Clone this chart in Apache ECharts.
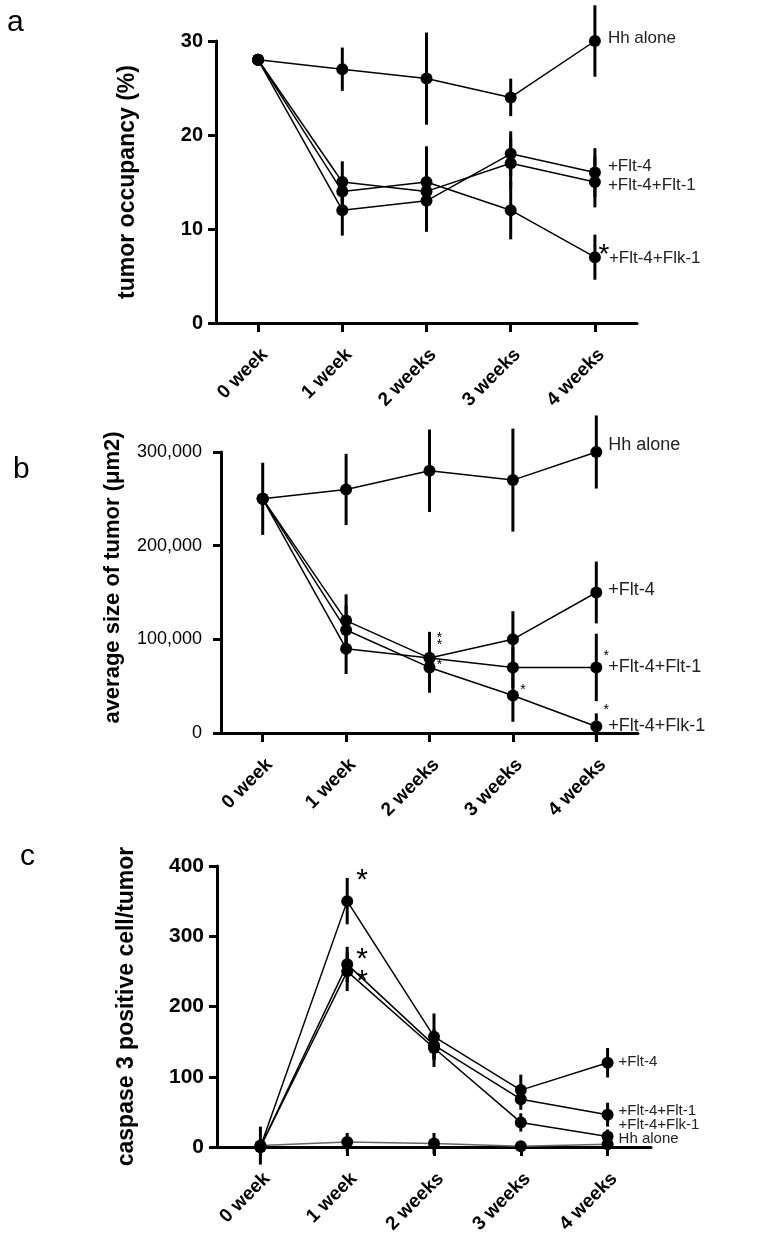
<!DOCTYPE html>
<html><head><meta charset="utf-8">
<script src="https://cdn.jsdelivr.net/npm/echarts@6/dist/echarts.min.js"></script>
<style>html,body{margin:0;padding:0;background:#fff}#c{width:760px;height:1243px}</style>
</head><body><div id="c"></div>
<script>
// ---------- data ----------
const weeks = ['0 week', '1 week', '2 weeks', '3 weeks', '4 weeks'];
const groups = ['Hh alone', '+Flt-4', '+Flt-4+Flt-1', '+Flt-4+Flk-1'];

// a: tumor occupancy (%)
const occTicks = [0, 10, 20, 30];
const occHh = [28, 27, 26, 24, 30];
const occHhErr = [0, 2.3, 4.9, 2.0, 3.8];
const occFlt4 = [28, 12, 13, 18, 16];
const occFlt4Err = [0, 2.7, 3.3, 2.4, 2.6];
const occFlt4Flt1 = [28, 15, 14, 17, 15];
const occFlt4Flt1Err = [0, 2.2, 2.0, 2.6, 2.7];
const occFlt4Flk1 = [28, 14, 15, 12, 7];
const occFlt4Flk1Err = [0, 1.5, 3.8, 3.1, 2.4];
const occStars = [[4, 7.9]];

// b: average size of tumor (um2)
const sizeTicks = [0, 100000, 200000, 300000];
const sizeHh = [250000, 260000, 280000, 270000, 300000];
const sizeHhErr = [38500, 38000, 44000, 55000, 39000];
const sizeFlt4 = [250000, 120000, 80000, 100000, 150000];
const sizeFlt4Err = [0, 28000, 28000, 30000, 33000];
const sizeFlt4Flt1 = [250000, 90000, 80000, 70000, 70000];
const sizeFlt4Flt1Err = [0, 27000, 20000, 22000, 36000];
const sizeFlt4Flk1 = [250000, 110000, 70000, 40000, 7000];
const sizeFlt4Flk1Err = [0, 26000, 27000, 28000, 14000];
const sizeStars = [[2, 104600], [2, 97100], [2, 75900], [3, 49300], [4, 85400], [4, 28000]];

// c: caspase 3 positive cell/tumor
const casTicks = [0, 100, 200, 300, 400];
const casHh = [2, 7, 5, 1, 4];
const casHhErr = [27, 13, 15, 0, 4];
const casFlt4 = [0, 350, 157, 81, 120];
const casFlt4Err = [0, 33, 33, 22, 21];
const casFlt4Flt1 = [0, 260, 145, 68, 46];
const casFlt4Flt1Err = [0, 25, 20, 15, 17];
const casFlt4Flk1 = [0, 250, 141, 35, 15];
const casFlt4Flk1Err = [0, 28, 27, 13, 10];
const casStars = [[1, 388.9], [1, 276.5], [1, 245.0]];

const panelLetters = ['a', 'b', 'c'];
const yNames = ['tumor occupancy (%)', 'average size of tumor (\u03bcm2)', 'caspase 3 positive cell/tumor'];

const panels = [
  { ticks: occTicks, stars: occStars,
    series: [[occHh, occHhErr], [occFlt4, occFlt4Err], [occFlt4Flt1, occFlt4Flt1Err], [occFlt4Flk1, occFlt4Flk1Err]] },
  { ticks: sizeTicks, stars: sizeStars,
    series: [[sizeHh, sizeHhErr], [sizeFlt4, sizeFlt4Err], [sizeFlt4Flt1, sizeFlt4Flt1Err], [sizeFlt4Flk1, sizeFlt4Flk1Err]] },
  { ticks: casTicks, stars: casStars,
    series: [[casHh, casHhErr], [casFlt4, casFlt4Err], [casFlt4Flt1, casFlt4Flt1Err], [casFlt4Flk1, casFlt4Flk1Err]] }
];

// ---------- styles ----------
const FONT = '"Liberation Sans", Arial, Helvetica, sans-serif';
const commas = v => String(v).replace(/\B(?=(\d{3})+(?!\d))/g, ',');
const styles = [
  { grid: {left: 216, right: 123, top: 41, bottom: 920}, nameGap: 77, nameSize: 23, namePad: [0, 0, 0, 0],
    tickSize: 20, tickWeight: 'bold', tickMargin: 13, fmt: v => String(v),
    labelSize: 17, labelOffsets: [[13, -3], [13, -6], [13, 3], [14, 1]],
    starSize: 28, starDx: 9, letterPos: [7, 23], hhColor: '#000' },
  { grid: {left: 221, right: 122, top: 452, bottom: 510}, nameGap: 97, nameSize: 22, namePad: [0, 0, 0, 30],
    tickSize: 18, tickWeight: 'normal', tickMargin: 19, fmt: commas,
    labelSize: 18, labelOffsets: [[12, -7], [12, -2], [12, 0], [12, 0]],
    starSize: 14, starDx: 10, letterPos: [13, 470], hhColor: '#000' },
  { grid: {left: 217, right: 109, top: 866, bottom: 96}, nameGap: 79, nameSize: 23, namePad: [0, 0, 0, 0],
    tickSize: 21, tickWeight: 'bold', tickMargin: 13, fmt: v => String(v),
    labelSize: 15, labelOffsets: [[11, -5], [11, -1], [11, -4], [11, -12]],
    starSize: 30, starDx: 15, letterPos: [20, 857], hhColor: '#666' }
];

function errRender(params, api) {
  const x = api.value(0), m = api.value(1), e = api.value(2);
  if (!e) return null;
  const p1 = api.coord([x, m - e]);
  const p2 = api.coord([x, m + e]);
  return { type: 'line', shape: {x1: p1[0], y1: p1[1], x2: p2[0], y2: p2[1]},
           style: {stroke: '#000', lineWidth: 3} };
}

const option = { animation: false, backgroundColor: '#fff', grid: [], xAxis: [], yAxis: [], series: [], graphic: [] };

panels.forEach((p, i) => {
  const s = styles[i];
  option.grid.push(Object.assign({containLabel: false, outerBoundsMode: 'none'}, s.grid));
  option.xAxis.push({
    type: 'category', gridIndex: i, data: weeks, boundaryGap: true,
    axisLine: {show: true, lineStyle: {color: '#000', width: 3}},
    axisTick: {show: true, alignWithLabel: true, length: 9, lineStyle: {color: '#000', width: 3}},
    axisLabel: {interval: 0, rotate: 45, fontSize: 19, fontWeight: 'bold', color: '#000',
                fontFamily: FONT, margin: 22, verticalAlign: 'top'},
    splitLine: {show: false}
  });
  const t = p.ticks;
  option.yAxis.push({
    type: 'value', gridIndex: i, min: t[0], max: t[t.length - 1], interval: t[1] - t[0],
    axisLine: {show: true, lineStyle: {color: '#000', width: 3}},
    axisTick: {show: true, length: 8, lineStyle: {color: '#000', width: 3}},
    splitLine: {show: false},
    axisLabel: {fontSize: s.tickSize, fontWeight: s.tickWeight, color: '#000', fontFamily: FONT,
                margin: s.tickMargin, formatter: s.fmt},
    name: yNames[i], nameLocation: 'middle', nameGap: s.nameGap,
    nameTextStyle: {fontSize: s.nameSize, fontWeight: 'bold', color: '#000', fontFamily: FONT, padding: s.namePad}
  });
  p.series.forEach(([vals, errs], k) => {
    option.series.push({
      type: 'custom', xAxisIndex: i, yAxisIndex: i, clip: false, silent: true, z: 2,
      data: vals.map((v, j) => [j, v, errs[j]]), encode: {x: 0, y: 1}, renderItem: errRender
    });
    const off = s.labelOffsets[k];
    option.series.push({
      type: 'line', name: groups[k], xAxisIndex: i, yAxisIndex: i, z: 3,
      data: vals, symbol: 'circle', symbolSize: 12, showSymbol: true,
      lineStyle: {color: k === 0 ? s.hhColor : '#000', width: 1.5},
      itemStyle: {color: '#000'},
      label: {show: true, position: 'right', distance: 0, offset: [off[0] - 6, off[1]],
              fontSize: s.labelSize, color: '#222', fontFamily: FONT,
              formatter: prm => prm.dataIndex === vals.length - 1 ? groups[k] : ''}
    });
  });
  option.series.push({
    type: 'scatter', xAxisIndex: i, yAxisIndex: i, z: 4, silent: true,
    data: p.stars, symbol: 'circle', symbolSize: 2, itemStyle: {color: 'rgba(0,0,0,0)'},
    label: {show: true, formatter: '*', position: 'inside', offset: [s.starDx, s.starSize * 0.23],
            fontSize: s.starSize, color: '#000', fontFamily: FONT, opacity: 1}
  });
  option.graphic.push({
    type: 'text', x: s.letterPos[0], y: s.letterPos[1],
    style: {text: panelLetters[i], fontSize: 30, fontFamily: FONT, fill: '#000',
            align: 'left', verticalAlign: 'middle'}
  });
});

const chart = echarts.init(document.getElementById('c'), null, {renderer: 'canvas'});
chart.setOption(option);
</script>
</body></html>
